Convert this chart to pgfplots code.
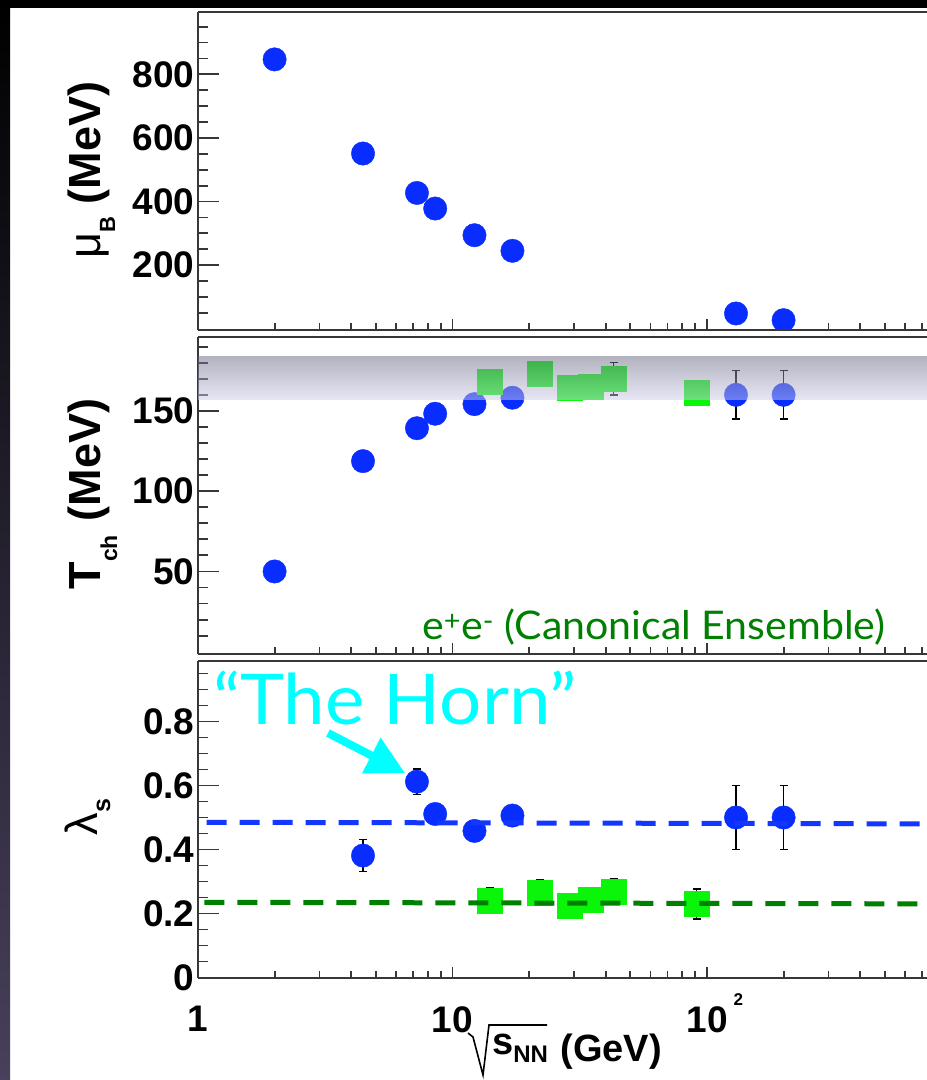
\documentclass[border=0pt]{standalone}
\usepackage{fontspec}
\setmainfont{Liberation Sans}
\newfontfamily\gillfont{Lato}
\usepackage{pgfplots}
\pgfplotsset{compat=1.18}
\usetikzlibrary{arrows.meta}

\definecolor{ptblue}{RGB}{10,45,255}
\definecolor{ptgreen}{RGB}{10,245,10}
\definecolor{dkgreen}{RGB}{0,128,0}
\definecolor{fitblue}{RGB}{20,55,255}
\definecolor{hornc}{RGB}{0,255,255}
\definecolor{bandtop}{RGB}{105,105,129}
\definecolor{bandbot}{RGB}{205,205,235}
\definecolor{framec}{RGB}{55,55,55}
\definecolor{edgec}{RGB}{72,64,92}

\pgfplotsset{
  panel/.style={
    scale only axis, width=729pt,
    xmin=1, xmax=731.9,
    axis y line*=left,
    tick align=inside, xtick pos=bottom,
    axis line style={line width=2pt, framec},
    tick style={line width=1.8pt, framec},
    major tick length=21pt, minor tick length=10pt,
    xtick style={/pgfplots/major tick length=11pt, /pgfplots/minor tick length=7pt},
    xtick={1,10,100,1000},
    minor xtick={2,3,4,5,6,7,8,9,20,30,40,50,60,70,80,90,200,300,400,500,600,700,800,900},
    tick label style={font=\fontsize{37}{37}\selectfont\bfseries},
    xticklabel style={yshift=-25pt},
    clip=true, clip marker paths=true,
  },
  % vertical error bars with short horizontal caps
  errs/.style={only marks, mark=none, black, line width=1.4pt,
    error bars/y dir=both, error bars/y explicit,
    error bars/error mark=|,
    error bars/error bar style={line width=1.4pt, black},
    error bars/error mark options={line width=1.4pt, black, mark size=4pt}},
  bluepts/.style={only marks, mark=*, mark size=11.7pt, color=ptblue,
    mark options={fill=ptblue, draw=none}},
  greenpts/.style={only marks, mark=square*, mark size=12.5pt, color=ptgreen,
    mark options={fill=ptgreen, draw=none}},
}

\begin{document}
\begin{tikzpicture}[x=1pt,y=1pt]
\useasboundingbox (0,0) rectangle (927,1080);
% page frame
\fill[white] (0,0) rectangle (927,1080);
\fill[black] (0,1072) rectangle (927,1080);
\shade[top color=black, bottom color=edgec] (0,0) rectangle (10,1080);

% ---- baryon chemical potential ----
\begin{semilogxaxis}[panel, at={(198pt,750pt)}, anchor=south west, height=318pt,
  ymin=-4, ymax=996,
  ytick={200,400,600,800}, yticklabels={200,400,600,800},
  minor ytick={50,100,150,250,300,350,450,500,550,650,700,750,850,900,950},
  xticklabel=\empty,
]
\addplot[bluepts] coordinates {
  (2,847) (4.45,551) (7.25,427) (8.55,378) (12.2,294) (17.2,245) (130,48) (200,27)
};
\end{semilogxaxis}

% ---- chemical freeze-out temperature ----
\begin{semilogxaxis}[panel, at={(198pt,426pt)}, anchor=south west, height=317pt,
  ymin=-1.4, ymax=196,
  ytick={50,100,150}, yticklabels={50,100,150},
  minor ytick={10,20,30,40,60,70,80,90,110,120,130,140,160,170,180,190},
  xticklabel=\empty,
]
\addplot[errs] coordinates {
  (130,160) +- (0,15)
  (200,160) +- (0,15)
  (43,170) +- (0,10)
};
\addplot[bluepts] coordinates {
  (2,50) (4.45,118.7) (7.25,139.2) (8.55,148.2) (12.2,154.2) (17.2,158.2)
  (130,160) (200,160)
};
\addplot[greenpts] coordinates {
  (14,168.3) (22,173.1) (29,164.6) (35,165.3) (43,170) (91,161.1)
};
% translucent band laid over the points
\shade[top color=bandtop, bottom color=bandbot, opacity=0.5]
  (axis cs:1,157.3) rectangle (axis cs:731.9,183.9);
\end{semilogxaxis}

% ---- strangeness suppression factor ----
\begin{semilogxaxis}[panel, at={(198pt,102pt)}, anchor=south west, height=317pt,
  ymin=-0.0016, ymax=0.989,
  ytick={0,0.2,0.4,0.6,0.8}, yticklabels={0,0.2,0.4,0.6,0.8},
  minor ytick={0.05,0.1,0.15,0.25,0.3,0.35,0.45,0.5,0.55,0.65,0.7,0.75,0.85,0.9,0.95},
  xticklabels={1,10,10\rlap{\smash{\hspace{6pt}\raisebox{27pt}{\fontsize{17}{17}\selectfont\bfseries 2}}}},
]
\addplot[errs] coordinates {
  (4.45,0.381) +- (0,0.05)
  (7.25,0.612) +- (0,0.04)
  (130,0.5) +- (0,0.1)
  (200,0.5) +- (0,0.1)
};
\addplot[bluepts] coordinates {
  (4.45,0.381) (7.25,0.612) (8.55,0.511) (12.2,0.458) (17.2,0.506) (130,0.5) (200,0.5)
};
\addplot[errs] coordinates {
  (14,0.24) +- (0,0.04)
  (22,0.266) +- (0,0.04)
  (29,0.224) +- (0,0.03)
  (35,0.244) +- (0,0.03)
  (43,0.269) +- (0,0.04)
  (91,0.23) +- (0,0.047)
};
\addplot[greenpts] coordinates {
  (14,0.24) (22,0.266) (29,0.224) (35,0.244) (43,0.269) (91,0.23)
};
\addplot[fitblue, line width=5pt, dash pattern=on 20pt off 13pt]
  coordinates {(1.08,0.485) (731.9,0.48)};
\addplot[dkgreen, line width=5pt, dash pattern=on 20pt off 13pt]
  coordinates {(1.06,0.235) (731.9,0.23)};
\draw[hornc, line width=8pt, -{Triangle[length=38pt,width=38pt]}]
  (axis cs:3.243,0.764) -- (axis cs:6.51,0.639);
\end{semilogxaxis}

% y-axis titles
\node[rotate=90, anchor=base, inner sep=0pt, font=\fontsize{45}{45}\selectfont]
  at (100,910) {μ\raisebox{-15pt}{\fontsize{22}{22}\selectfont\bfseries B}\hspace{12pt}\bfseries(MeV)};
\node[rotate=90, anchor=base, inner sep=0pt, font=\fontsize{45}{45}\selectfont\bfseries]
  at (100,586) {T\raisebox{-17pt}{\fontsize{23}{23}\selectfont\bfseries ch}\hspace{14pt}(MeV)};
\node[rotate=90, anchor=base, inner sep=0pt, font=\fontsize{45}{45}\selectfont]
  at (97,263) {λ\raisebox{-13pt}{\fontsize{25}{25}\selectfont\bfseries s}};

% x-axis title: sqrt(s_NN) (GeV)
\node[anchor=base west, inner sep=0pt, font=\fontsize{38}{38}\selectfont\bfseries]
  at (492,25) {s\raisebox{-8pt}{\fontsize{24}{24}\selectfont\bfseries NN}};
\node[anchor=base east, inner sep=0pt, font=\fontsize{38}{38}\selectfont\bfseries]
  at (662,19) {(GeV)};
\draw[line width=1.6pt, line join=miter] (468,47) -- (473,43) -- (483,5) -- (489,55) -- (547,55);

% annotations
\node[anchor=base west, inner sep=0pt, text=hornc, xscale=1.065,
  font=\gillfont\fontsize{70}{70}\selectfont] at (213,355) {“The Horn”};
\node[anchor=base west, inner sep=0pt, text=dkgreen, xscale=1.04,
  font=\gillfont\fontsize{39.5}{39.5}\selectfont] at (422,440)
  {e\textsuperscript{+}e\textsuperscript{-} (Canonical Ensemble)};
\end{tikzpicture}
\end{document}
